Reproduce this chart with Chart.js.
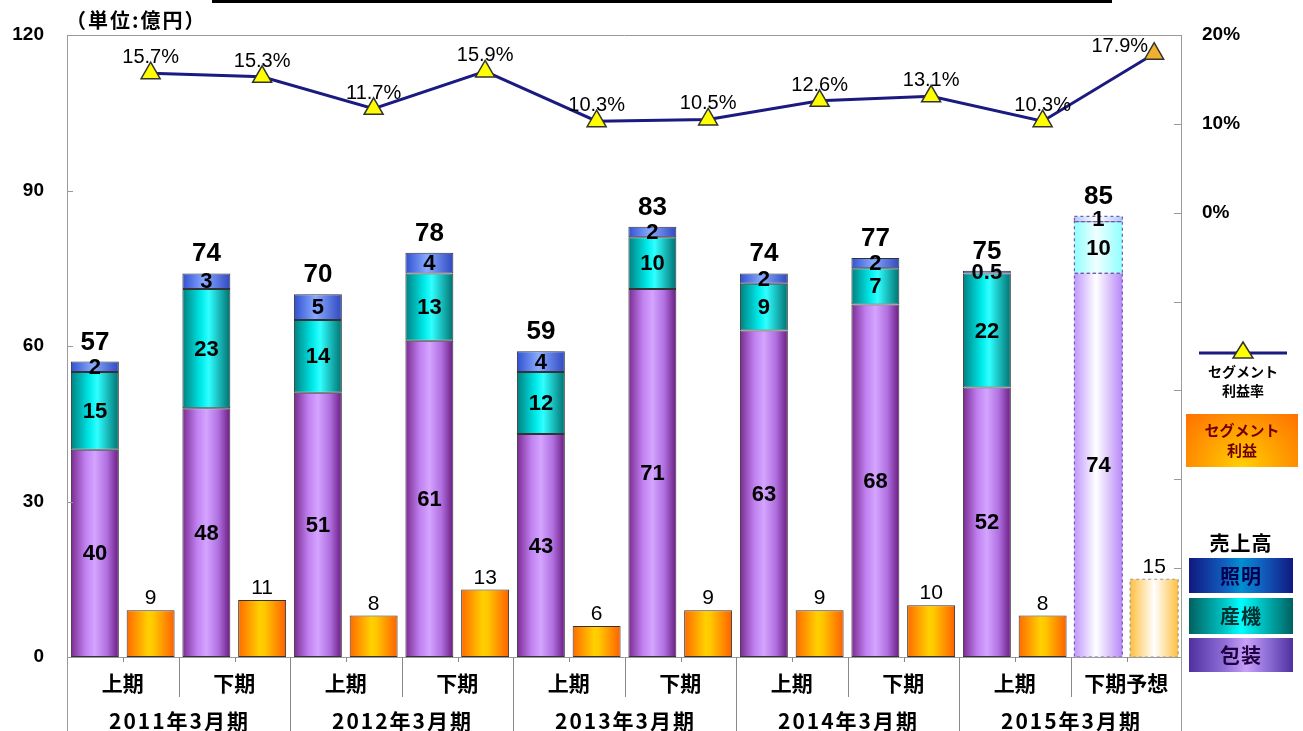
<!DOCTYPE html>
<html>
<head>
<meta charset="utf-8">
<script src="https://cdn.jsdelivr.net/npm/chart.js@4.4.1/dist/chart.umd.min.js"></script>
<style>
  body { margin: 0; background: #fff; }
  #wrap { position: relative; width: 1303px; height: 731px; }
  .jp { position: absolute; font-family: "Noto Sans CJK JP", sans-serif; font-weight: bold; color: #000; text-align: center; }
  .box { left: 1189px; width: 104px; font-size: 20px; letter-spacing: 1px; }
</style>
</head>
<body>
<div id="wrap">
  <canvas id="chart"></canvas>
  <div class="jp" id="unit" style="left:66px;top:6px;font-size:20px;line-height:28px;letter-spacing:2px;">（単位:億円）</div>
  <div class="jp" style="left:1188px;top:362px;width:110px;font-size:14px;line-height:19px;">セグメント<br>利益率</div>
  <div class="jp" style="left:1186px;top:414px;width:112px;height:53px;font-size:15px;line-height:20px;padding-top:6px;box-sizing:border-box;color:#700000;background:radial-gradient(ellipse at 50% 100%, #ffd000 0%, #ff9a00 55%, #ff7000 100%);">セグメント<br>利益</div>
  <div class="jp" style="left:1189px;top:530px;width:104px;font-size:20px;line-height:26px;letter-spacing:1px;">売上高</div>
  <div class="jp box" style="top:558px;height:35px;line-height:35px;color:#000050;background:linear-gradient(90deg,#101880 0%,#1060c0 35%,#0090d0 50%,#1060c0 70%,#101880 100%);">照明</div>
  <div class="jp box" style="top:598px;height:36px;line-height:36px;color:#003030;background:linear-gradient(90deg,#006060 0%,#00c8c8 35%,#00ffff 50%,#00c0c0 70%,#006060 100%);">産機</div>
  <div class="jp box" style="top:638px;height:34px;line-height:34px;color:#200040;background:linear-gradient(90deg,#5030a0 0%,#9070d8 35%,#c8a0f8 55%,#9070d8 75%,#5030a0 100%);">包装</div>
</div>
<script>
// 売上高・セグメント利益（億円）、利益率（%）
const years      = ['2011年3月期', '2012年3月期', '2013年3月期', '2014年3月期', '2015年3月期'];
const halves     = ['上期', '下期', '上期', '下期', '上期', '下期', '上期', '下期', '上期', '下期予想'];
const housou     = [40, 48, 51, 61, 43, 71, 63, 68, 52, 74];   // 包装
const sanki      = [15, 23, 14, 13, 12, 10, 9, 7, 22, 10];     // 産機
const shoumei    = [2, 3, 5, 4, 4, 2, 2, 2, 0.5, 1];            // 照明
const rieki      = [9, 11, 8, 13, 6, 9, 9, 10, 8, 15];          // セグメント利益
const riekiRitsu = [15.7, 15.3, 11.7, 15.9, 10.3, 10.5, 12.6, 13.1, 10.3, 17.9]; // セグメント利益率
const leftAxis   = { min: 0, max: 120, step: 30 };
const rightAxis  = { min: -50, max: 20, step: 10 };
const FORECAST   = 9; // 下期予想

const BAR_PCT = 0.86;
const NUM_FONT = '"Liberation Sans", Arial, sans-serif';
const JP_FONT = '"Noto Sans CJK JP", sans-serif';

// 20スロット: 偶数=売上高、奇数=利益
const slots = halves.flatMap(h => [h, h]);
const salesSlot  = arr => arr.flatMap(v => [v, null]);
const profitSlot = arr => arr.flatMap(v => [null, v]);
const isForecast = i => Math.floor(i / 2) === FORECAST;

function grad(normal, fc) {
  return (c) => {
    const chart = c.chart, xs = chart.scales.x;
    const stops = isForecast(c.dataIndex) ? fc : normal;
    if (!chart.chartArea || !xs) return stops[1][1];
    const cx = xs.getPixelForValue(c.dataIndex);
    const w = (xs.getPixelForValue(1) - xs.getPixelForValue(0)) * BAR_PCT;
    const g = chart.ctx.createLinearGradient(cx - w / 2, 0, cx + w / 2, 0);
    stops.forEach(s => g.addColorStop(s[0], s[1]));
    return g;
  };
}

const purpleG = grad([[0,'#7a2a90'],[0.3,'#c080f0'],[0.5,'#d4a4ff'],[0.75,'#b070e0'],[1,'#6a1a80']],
                     [[0,'#c098ff'],[0.45,'#ffffff'],[1,'#b888f8']]);
const tealG   = grad([[0,'#008080'],[0.4,'#00ecec'],[0.55,'#30ffff'],[1,'#007070']],
                     [[0,'#90ffff'],[0.45,'#f0ffff'],[1,'#90ffff']]);
const blueG   = grad([[0,'#3050d0'],[0.45,'#88aaff'],[1,'#3048c0']],
                     [[0,'#b0c8ff'],[0.45,'#ffffff'],[1,'#b0c8ff']]);
const orangeG = grad([[0,'#ff6a00'],[0.45,'#ffd000'],[0.55,'#ffc800'],[1,'#ff6000']],
                     [[0,'#ffc040'],[0.5,'#ffffff'],[1,'#ffc040']]);

const barCommon = {
  type: 'bar',
  barPercentage: BAR_PCT,
  categoryPercentage: 1,
  skipNull: true,
  borderSkipped: false,
  borderColor: '#333',
  borderWidth: c => isForecast(c.dataIndex) ? 0 : 1,
  order: 1
};

// ラベル・枠・表
const extras = {
  id: 'extras',
  afterDatasetsDraw(chart) {
    const ctx = chart.ctx;
    ctx.save();

    // 予想の点線枠
    ctx.setLineDash([3, 3]);
    ctx.lineWidth = 1.2;
    [0, 1, 2, 3].forEach(di => {
      chart.getDatasetMeta(di).data.forEach((el, i) => {
        if (!isForecast(i) || chart.data.datasets[di].data[i] == null) return;
        ctx.strokeStyle = di === 3 ? '#999' : '#7a5aa8';
        ctx.strokeRect(el.x - el.width / 2, el.y, el.width, el.base - el.y);
      });
    });
    ctx.setLineDash([]);

    ctx.fillStyle = '#000';
    ctx.textAlign = 'center';
    ctx.textBaseline = 'middle';
    // 各セグメントの値
    ctx.font = 'bold 22px ' + NUM_FONT;
    [0, 1, 2].forEach(di => {
      chart.getDatasetMeta(di).data.forEach((el, i) => {
        const v = chart.data.datasets[di].data[i];
        if (v == null) return;
        ctx.fillText(String(v), el.x, (el.y + el.base) / 2 + 1);
      });
    });
    // 合計
    ctx.font = 'bold 26px ' + NUM_FONT;
    ctx.textBaseline = 'alphabetic';
    const topMeta = chart.getDatasetMeta(2).data;
    halves.forEach((h, i) => {
      const el = topMeta[2 * i];
      const total = housou[i] + sanki[i] + shoumei[i];
      ctx.fillText(String(Math.round(total)), el.x, el.y - 12);
    });
    // 利益
    ctx.font = '21px ' + NUM_FONT;
    chart.getDatasetMeta(3).data.forEach((el, i) => {
      const v = chart.data.datasets[3].data[i];
      if (v == null) return;
      ctx.fillText(String(v), el.x, el.y - 6);
    });
    // 利益率
    ctx.font = '20px ' + NUM_FONT;
    const lineMeta = chart.getDatasetMeta(4).data;
    lineMeta.forEach((el, i) => {
      const v = chart.data.datasets[4].data[i];
      if (v == null) return;
      const txt = v.toFixed(1) + '%';
      if (i === slots.length - 1) {
        ctx.textAlign = 'right';
        ctx.fillText(txt, el.x - 6, el.y - 2);
        ctx.textAlign = 'center';
      } else {
        ctx.fillText(txt, el.x, el.y - 10);
      }
    });
    ctx.restore();
  },
  afterDraw(chart) {
    const ctx = chart.ctx;
    const { left, right, top, bottom } = chart.chartArea;
    const xs = chart.scales.x, y = chart.scales.y, y2 = chart.scales.y2;
    const step = xs.getPixelForValue(1) - xs.getPixelForValue(0);
    const H = chart.height;
    ctx.save();
    // タイトル下線
    ctx.fillStyle = '#000';
    ctx.fillRect(212, 0, 900, 3);

    ctx.strokeStyle = '#9a9a9a';
    ctx.lineWidth = 1;
    ctx.beginPath();
    ctx.moveTo(left + 0.5, H); ctx.lineTo(left + 0.5, top + 0.5); ctx.lineTo(right - 0.5, top + 0.5); ctx.lineTo(right - 0.5, H);
    ctx.moveTo(left, bottom + 0.5); ctx.lineTo(right, bottom + 0.5);
    // 目盛り（内向き）
    y.ticks.forEach(t => { const p = Math.round(y.getPixelForValue(t.value)) + 0.5; ctx.moveTo(left, p); ctx.lineTo(left + 6, p); });
    y2.ticks.forEach(t => { const p = Math.round(y2.getPixelForValue(t.value)) + 0.5; ctx.moveTo(right - 8, p); ctx.lineTo(right, p); });
    ctx.stroke();

    // 下の表
    ctx.strokeStyle = '#888';
    ctx.beginPath();
    halves.forEach((h, i) => {
      const x0 = Math.round(xs.getPixelForValue(2 * i) - step / 2) + 0.5;
      const cx = Math.round(x0 + step);
      if (i > 0) { ctx.moveTo(x0, bottom); ctx.lineTo(x0, i % 2 === 0 ? H : bottom + 40); }
      ctx.moveTo(cx + 0.5, bottom); ctx.lineTo(cx + 0.5, bottom + 5);
    });
    ctx.stroke();

    ctx.fillStyle = '#000';
    ctx.textAlign = 'center';
    ctx.textBaseline = 'middle';
    ctx.font = 'bold 21px ' + JP_FONT;
    halves.forEach((h, i) => {
      const cx = xs.getPixelForValue(2 * i) + step / 2;
      ctx.fillText(h, cx, bottom + 26);
    });
    ctx.letterSpacing = '2px';
    years.forEach((yr, j) => {
      const cx = xs.getPixelForValue(4 * j + 2) - step / 2;
      ctx.fillText(yr, cx + 1, bottom + 64);
    });
    ctx.letterSpacing = '0px';

    // 凡例の線と三角
    ctx.strokeStyle = '#1a1a80';
    ctx.lineWidth = 3;
    ctx.beginPath(); ctx.moveTo(1199, 353); ctx.lineTo(1287, 353); ctx.stroke();
    ctx.beginPath(); ctx.moveTo(1243, 342); ctx.lineTo(1253, 358); ctx.lineTo(1233, 358); ctx.closePath();
    ctx.fillStyle = '#ffff00'; ctx.fill();
    ctx.strokeStyle = '#333'; ctx.lineWidth = 1.5; ctx.stroke();
    ctx.restore();
  }
};

new Chart(document.getElementById('chart'), {
  data: {
    labels: slots,
    datasets: [
      { ...barCommon, label: '包装', data: salesSlot(housou), backgroundColor: purpleG, stack: 'sales' },
      { ...barCommon, label: '産機', data: salesSlot(sanki), backgroundColor: tealG, stack: 'sales' },
      { ...barCommon, label: '照明', data: salesSlot(shoumei), backgroundColor: blueG, stack: 'sales' },
      { ...barCommon, label: 'セグメント利益', data: profitSlot(rieki), backgroundColor: orangeG, stack: 'profit' },
      {
        type: 'line', label: 'セグメント利益率', data: profitSlot(riekiRitsu), yAxisID: 'y2',
        spanGaps: true, borderColor: '#1a1a80', borderWidth: 3, tension: 0,
        pointStyle: 'triangle', pointRadius: 11, pointHoverRadius: 11,
        pointBackgroundColor: c => c.dataIndex === slots.length - 1 ? '#f0b030' : '#ffff00',
        pointBorderColor: '#333', pointBorderWidth: 1.5, order: 0
      }
    ]
  },
  options: {
    responsive: true,
    maintainAspectRatio: false,
    animation: false,
    layout: { padding: { top: 35, bottom: 74, left: 0, right: 0 } },
    plugins: { legend: { display: false }, tooltip: { enabled: false } },
    scales: {
      x: { display: false, stacked: true },
      y: {
        stacked: true, position: 'left',
        min: leftAxis.min, max: leftAxis.max,
        ticks: { stepSize: leftAxis.step, padding: 23, color: '#000', font: { family: NUM_FONT, size: 19, weight: 'bold' } },
        grid: { display: false, drawTicks: false }, border: { display: false },
        afterFit(s) { s.width = 67; }
      },
      y2: {
        position: 'right',
        min: rightAxis.min, max: rightAxis.max,
        ticks: { stepSize: rightAxis.step, padding: 20, color: '#000', font: { family: NUM_FONT, size: 19, weight: 'bold' },
                 callback: v => v >= 0 ? v + '%' : '' },
        grid: { display: false, drawTicks: false }, border: { display: false },
        afterFit(s) { s.width = 121; }
      }
    }
  },
  plugins: [extras]
});
</script>
</body>
</html>
